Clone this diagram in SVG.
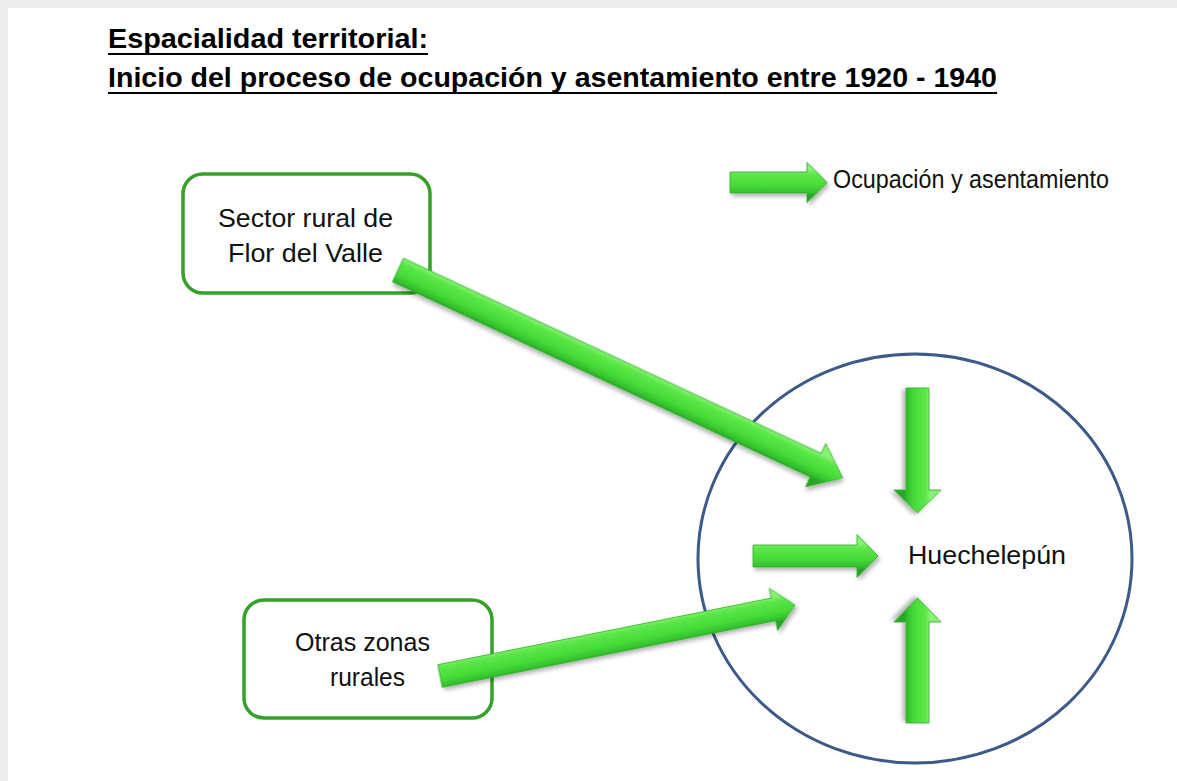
<svg xmlns="http://www.w3.org/2000/svg" width="1177" height="781" viewBox="0 0 1177 781">
  <style>
    .title { font-family: "Liberation Sans", Arial, sans-serif; font-weight: bold; font-size: 27px; fill: #000; }
    .ul { stroke: #000; stroke-width: 2.2; }
    .lbl { font-family: "Liberation Sans", Arial, sans-serif; font-size: 25px; fill: #111; }
    .box { fill: #fff; stroke: #35a12a; stroke-width: 3.5; }
    .circ { fill: none; stroke: #3b5a8a; stroke-width: 3; }
    .arrow { fill: url(#arrowGrad); stroke: #2faa28; stroke-width: 0.8; filter: url(#shadow); }
  </style>
  <defs>
    <linearGradient id="arrowGrad" gradientUnits="userSpaceOnUse" x1="0" y1="-13" x2="0" y2="13">
      <stop offset="0" stop-color="#86f472"/>
      <stop offset="0.2" stop-color="#5ce748"/>
      <stop offset="0.65" stop-color="#44da36"/>
      <stop offset="0.9" stop-color="#33bf2c"/>
      <stop offset="1" stop-color="#2aa626"/>
    </linearGradient>
    <filter id="shadow" x="-20%" y="-50%" width="140%" height="200%">
      <feDropShadow dx="2" dy="3" stdDeviation="2" flood-color="#000" flood-opacity="0.3"/>
    </filter>
  </defs>

  <rect x="0" y="0" width="1177" height="781" fill="#ededed"/>
  <rect x="8" y="8" width="1169" height="773" fill="#ffffff"/>

  <g id="title">
    <text class="title" x="108" y="48" textLength="320" lengthAdjust="spacingAndGlyphs">Espacialidad territorial:</text>
    <line class="ul" x1="108" y1="54" x2="428" y2="54"/>
    <text class="title" x="108" y="87" textLength="889" lengthAdjust="spacingAndGlyphs">Inicio del proceso de ocupación y asentamiento entre 1920 - 1940</text>
    <line class="ul" x1="108" y1="93" x2="997" y2="93"/>
  </g>

  <g id="legend">
    <path class="arrow" transform="translate(730 182.5)" d="M0,-10.5 H77 V-20 L97,0 L77,20 V10.5 H0 Z"/>
    <text class="lbl" x="833" y="188" font-size="21" textLength="276" lengthAdjust="spacingAndGlyphs">Ocupación y asentamiento</text>
  </g>

  <g id="node-flor-del-valle">
    <rect class="box" x="183" y="174" width="247" height="119" rx="20" ry="20"/>
    <text class="lbl" x="305.5" y="227" text-anchor="middle" textLength="175" lengthAdjust="spacingAndGlyphs">Sector rural de</text>
    <text class="lbl" x="305.5" y="262" text-anchor="middle" textLength="155" lengthAdjust="spacingAndGlyphs">Flor del Valle</text>
  </g>

  <g id="node-otras-zonas">
    <rect class="box" x="244" y="600" width="248" height="118" rx="20" ry="20"/>
    <text class="lbl" x="362.5" y="651" text-anchor="middle" textLength="135" lengthAdjust="spacingAndGlyphs">Otras zonas</text>
    <text class="lbl" x="367.5" y="686" text-anchor="middle" textLength="75" lengthAdjust="spacingAndGlyphs">rurales</text>
  </g>

  <g id="node-huechelepun">
    <ellipse class="circ" cx="915" cy="558.5" rx="217" ry="204.5"/>
    <text class="lbl" x="908" y="564" textLength="158" lengthAdjust="spacingAndGlyphs">Huechelepún</text>
  </g>

  <g id="connectors">
    <!-- Flor del Valle -> Huechelepún -->
    <path class="arrow" transform="translate(398 270) rotate(25.05)" d="M0,-13 H461 V-24 L491,0 L461,24 V13 H0 Z"/>
    <!-- Otras zonas -> Huechelepún -->
    <path class="arrow" transform="translate(440 676) rotate(-11.3)" d="M0,-11.5 H340 V-21.5 L362,0 L340,21.5 V11.5 H0 Z"/>
    <!-- inner arrows -->
    <path class="arrow" transform="translate(753 556)" d="M0,-11 H104 V-21.5 L125,0 L104,21.5 V11 H0 Z"/>
    <path class="arrow" transform="translate(917.5 388) rotate(90)" d="M0,-11.5 H102 V-23.5 L125,0 L102,23.5 V11.5 H0 Z"/>
    <path class="arrow" transform="translate(917.5 723) rotate(-90) scale(1 -1)" d="M0,-11.5 H101 V-23.5 L125,0 L101,23.5 V11.5 H0 Z"/>
  </g>
</svg>
